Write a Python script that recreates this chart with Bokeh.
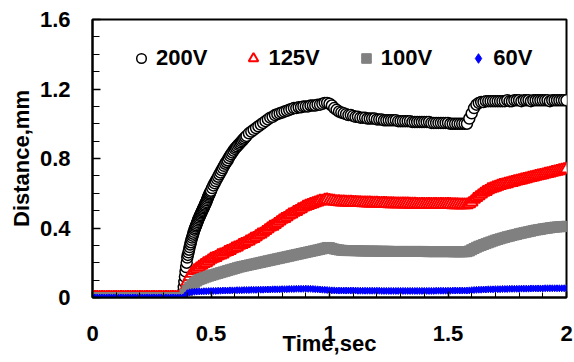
from bokeh.plotting import figure
from bokeh.models import (Range1d, SingleIntervalTicker, NumeralTickFormatter,
                          Legend, LegendItem)
from bokeh.embed import file_html
from bokeh.resources import INLINE

# ---------------- data ----------------
time_s = [i / 100 for i in range(201)]

series_names = ["200V", "125V", "100V", "60V"]
x_title = "Time,sec"
y_title = "Distance,mm"

d200 = [
    0, 0, 0, 0, 0, 0, 0, 0, 0, 0,
    0, 0, 0, 0, 0, 0, 0, 0, 0, 0,
    0, 0, 0, 0, 0, 0, 0, 0, 0, 0,
    0, 0, 0, 0, 0, 0, 0, 0, 0, 0.12,
    0.23, 0.29, 0.345, 0.39, 0.425, 0.46, 0.49, 0.52, 0.55, 0.585,
    0.615, 0.645, 0.67, 0.695, 0.72, 0.745, 0.77, 0.79, 0.815, 0.835,
    0.855, 0.87, 0.885, 0.90, 0.915, 0.93, 0.945, 0.955, 0.965, 0.975,
    0.985, 0.995, 1.005, 1.015, 1.025, 1.035, 1.04, 1.05, 1.055, 1.06,
    1.065, 1.07, 1.075, 1.08, 1.085, 1.09, 1.09, 1.095, 1.095, 1.10,
    1.10, 1.10, 1.105, 1.105, 1.105, 1.11, 1.11, 1.115, 1.12, 1.12,
    1.115, 1.105, 1.09, 1.08, 1.07, 1.065, 1.06, 1.055, 1.05, 1.05,
    1.045, 1.04, 1.04, 1.035, 1.035, 1.035, 1.03, 1.03, 1.03, 1.03,
    1.025, 1.025, 1.025, 1.02, 1.02, 1.02, 1.02, 1.02, 1.02, 1.015,
    1.015, 1.015, 1.015, 1.015, 1.015, 1.01, 1.01, 1.01, 1.01, 1.01,
    1.01, 1.01, 1.01, 1.005, 1.005, 1.005, 1.005, 1.005, 1.005, 1.005,
    1.005, 1.0, 1.0, 1.0, 1.0, 1.0, 1.0, 1.0, 1.0, 1.03,
    1.06, 1.09, 1.11, 1.12, 1.125, 1.125, 1.13, 1.13, 1.13, 1.13,
    1.13, 1.13, 1.13, 1.13, 1.13, 1.135, 1.13, 1.13, 1.135, 1.135,
    1.135, 1.13, 1.135, 1.135, 1.135, 1.13, 1.135, 1.135, 1.135, 1.135,
    1.135, 1.135, 1.135, 1.13, 1.135, 1.135, 1.135, 1.135, 1.135, 1.135,
    1.135,
]

# extra 200V samples read in the steep rise (between the 0.01 s samples)
t200_extra = [
    0.3825, 0.385, 0.3875, 0.3925, 0.395, 0.3975,
    0.4025, 0.405, 0.4075, 0.4125, 0.415, 0.4175,
    0.4225, 0.425, 0.4275, 0.4325, 0.435, 0.4375,
    0.4425, 0.445, 0.4475, 0.4525, 0.455, 0.4575,
    0.4625, 0.465, 0.4675, 0.4725, 0.475, 0.4775,
    0.4825, 0.485, 0.4875, 0.4925, 0.495, 0.4975,
    0.505, 0.515, 0.525, 0.535, 0.545, 0.555, 0.565, 0.575, 0.585, 0.595,
    0.605, 0.615, 0.625, 0.635, 0.645,
]
d200_extra = [
    0.03, 0.06, 0.09, 0.15, 0.175, 0.20,
    0.245, 0.26, 0.275, 0.305, 0.318, 0.332,
    0.356, 0.367, 0.378, 0.399, 0.408, 0.416,
    0.434, 0.443, 0.452, 0.468, 0.475, 0.483,
    0.498, 0.505, 0.513, 0.528, 0.535, 0.543,
    0.559, 0.568, 0.577, 0.593, 0.60, 0.608,
    0.63, 0.658, 0.683, 0.708, 0.733, 0.758, 0.78, 0.803, 0.825, 0.845,
    0.863, 0.878, 0.893, 0.908, 0.923,
]

d125 = [
    0, 0, 0, 0, 0, 0, 0, 0, 0, 0,
    0, 0, 0, 0, 0, 0, 0, 0, 0, 0,
    0, 0, 0, 0, 0, 0, 0, 0, 0, 0,
    0, 0, 0, 0, 0, 0, 0, 0, 0, 0.05,
    0.09, 0.12, 0.14, 0.155, 0.165, 0.175, 0.185, 0.195, 0.20, 0.21,
    0.22, 0.225, 0.23, 0.24, 0.245, 0.25, 0.26, 0.265, 0.27, 0.28,
    0.285, 0.29, 0.30, 0.305, 0.31, 0.32, 0.325, 0.335, 0.34, 0.35,
    0.36, 0.365, 0.375, 0.385, 0.395, 0.405, 0.41, 0.42, 0.43, 0.44,
    0.45, 0.455, 0.465, 0.475, 0.48, 0.49, 0.495, 0.505, 0.51, 0.52,
    0.525, 0.53, 0.535, 0.54, 0.545, 0.55, 0.555, 0.555, 0.56, 0.562,
    0.558, 0.556, 0.554, 0.552, 0.551, 0.55, 0.55, 0.549, 0.548, 0.548,
    0.547, 0.547, 0.546, 0.546, 0.545, 0.545, 0.544, 0.544, 0.543, 0.543,
    0.543, 0.542, 0.542, 0.541, 0.541, 0.54, 0.54, 0.54, 0.539, 0.539,
    0.539, 0.538, 0.538, 0.538, 0.537, 0.537, 0.537, 0.536, 0.536, 0.536,
    0.535, 0.535, 0.535, 0.535, 0.535, 0.535, 0.535, 0.535, 0.535, 0.535,
    0.535, 0.535, 0.534, 0.534, 0.534, 0.533, 0.533, 0.533, 0.533, 0.54,
    0.55, 0.565, 0.575, 0.585, 0.595, 0.605, 0.61, 0.62, 0.625, 0.63,
    0.635, 0.64, 0.645, 0.648, 0.652, 0.655, 0.66, 0.662, 0.666, 0.67,
    0.673, 0.676, 0.68, 0.683, 0.687, 0.69, 0.693, 0.697, 0.70, 0.703,
    0.706, 0.71, 0.713, 0.716, 0.72, 0.723, 0.726, 0.73, 0.733, 0.736,
    0.74,
]

d100 = [
    0, 0, 0, 0, 0, 0, 0, 0, 0, 0,
    0, 0, 0, 0, 0, 0, 0, 0, 0, 0,
    0, 0, 0, 0, 0, 0, 0, 0, 0, 0,
    0, 0, 0, 0, 0, 0, 0, 0, 0, 0.02,
    0.04, 0.06, 0.075, 0.085, 0.095, 0.103, 0.108, 0.113, 0.118, 0.123,
    0.127, 0.131, 0.135, 0.139, 0.143, 0.147, 0.151, 0.155, 0.159, 0.163,
    0.167, 0.171, 0.175, 0.178, 0.181, 0.184, 0.187, 0.19, 0.193, 0.196,
    0.199, 0.202, 0.205, 0.208, 0.211, 0.214, 0.217, 0.22, 0.223, 0.226,
    0.229, 0.232, 0.235, 0.238, 0.241, 0.244, 0.247, 0.25, 0.253, 0.256,
    0.259, 0.262, 0.265, 0.268, 0.271, 0.274, 0.277, 0.28, 0.284, 0.288,
    0.287, 0.283, 0.279, 0.276, 0.274, 0.272, 0.271, 0.27, 0.27, 0.27,
    0.27, 0.269, 0.269, 0.268, 0.268, 0.268, 0.267, 0.267, 0.267, 0.267,
    0.267, 0.266, 0.266, 0.266, 0.266, 0.266, 0.265, 0.265, 0.265, 0.265,
    0.265, 0.265, 0.265, 0.265, 0.265, 0.265, 0.265, 0.265, 0.265, 0.265,
    0.265, 0.264, 0.264, 0.264, 0.264, 0.264, 0.264, 0.264, 0.264, 0.264,
    0.264, 0.264, 0.263, 0.263, 0.263, 0.263, 0.263, 0.263, 0.264, 0.268,
    0.275, 0.282, 0.289, 0.295, 0.30, 0.305, 0.31, 0.315, 0.32, 0.325,
    0.33, 0.334, 0.338, 0.342, 0.346, 0.35, 0.353, 0.357, 0.36, 0.363,
    0.367, 0.37, 0.373, 0.376, 0.379, 0.382, 0.385, 0.388, 0.39, 0.392,
    0.395, 0.397, 0.399, 0.401, 0.403, 0.405, 0.406, 0.407, 0.408, 0.409,
    0.41,
]

d60 = [
    0, 0, 0, 0, 0, 0, 0, 0, 0, 0,
    0, 0, 0, 0, 0, 0, 0, 0, 0, 0,
    0, 0, 0, 0, 0, 0, 0, 0, 0, 0,
    0, 0, 0, 0, 0, 0, 0, 0, 0, 0.01,
    0.025, 0.03, 0.032, 0.033, 0.034, 0.035, 0.035, 0.036, 0.036, 0.037,
    0.037, 0.038, 0.038, 0.039, 0.039, 0.04, 0.04, 0.04, 0.041, 0.041,
    0.041, 0.042, 0.042, 0.042, 0.043, 0.043, 0.043, 0.044, 0.044, 0.044,
    0.045, 0.045, 0.045, 0.046, 0.046, 0.046, 0.047, 0.047, 0.047, 0.047,
    0.048, 0.048, 0.048, 0.049, 0.049, 0.049, 0.05, 0.05, 0.05, 0.05,
    0.051, 0.05, 0.05, 0.049, 0.048, 0.047, 0.046, 0.045, 0.044, 0.043,
    0.042, 0.041, 0.041, 0.04, 0.04, 0.04, 0.04, 0.04, 0.04, 0.04,
    0.04, 0.04, 0.039, 0.039, 0.039, 0.039, 0.039, 0.039, 0.039, 0.039,
    0.039, 0.039, 0.038, 0.038, 0.038, 0.038, 0.038, 0.038, 0.038, 0.038,
    0.038, 0.038, 0.038, 0.038, 0.038, 0.038, 0.038, 0.038, 0.038, 0.038,
    0.038, 0.038, 0.038, 0.038, 0.038, 0.039, 0.039, 0.039, 0.039, 0.039,
    0.039, 0.039, 0.04, 0.04, 0.04, 0.04, 0.04, 0.04, 0.04, 0.041,
    0.042, 0.043, 0.044, 0.045, 0.045, 0.046, 0.046, 0.047, 0.047, 0.047,
    0.048, 0.048, 0.048, 0.049, 0.049, 0.049, 0.05, 0.05, 0.05, 0.05,
    0.05, 0.051, 0.051, 0.051, 0.051, 0.052, 0.052, 0.052, 0.052, 0.052,
    0.052, 0.053, 0.053, 0.053, 0.053, 0.053, 0.053, 0.053, 0.053, 0.053,
    0.053,
]

x_tick_step = 0.5
y_tick_step = 0.4

# merge the 200V samples in time order
pairs200 = sorted(list(zip(time_s, d200)) + list(zip(t200_extra, d200_extra)))
t200 = [a for a, _ in pairs200]
v200 = [b for _, b in pairs200]

# ---------------- figure ----------------
FONT = "Liberation Sans"

p = figure(width=574, height=362, output_backend="svg", toolbar_location=None,
           x_range=Range1d(0, 2), y_range=Range1d(0, 1.6),
           min_border_left=92, min_border_right=8, min_border_top=19,
           min_border_bottom=65, background_fill_color="white",
           border_fill_color="white")

p.xgrid.visible = False
p.ygrid.visible = False
p.outline_line_color = "black"
p.outline_line_width = 2

r200 = p.scatter(t200, v200, marker="circle", size=11, fill_color="white",
                 line_color="black", line_width=1.5)
r125 = p.scatter(time_s, d125, marker="triangle", size=12, fill_color="white",
                 line_color="red", line_width=2)
r100 = p.scatter(time_s, d100, marker="square", size=10, fill_color="#808080",
                 line_color="#808080", line_width=1)
r60 = p.scatter(time_s, d60, marker="diamond", size=7, fill_color="blue",
                line_color="blue", line_width=1)

for ax in (p.xaxis[0], p.yaxis[0]):
    ax.axis_line_width = 2
    ax.axis_line_color = "black"
    ax.major_tick_out = 0
    ax.minor_tick_out = 0
    ax.major_tick_line_width = 1.5
    ax.minor_tick_line_width = 1
    ax.major_tick_line_color = "black"
    ax.minor_tick_line_color = "black"
    ax.major_label_text_font = FONT
    ax.major_label_text_font_style = "bold"
    ax.major_label_text_font_size = "22px"
    ax.major_label_text_color = "black"
    ax.axis_label_text_font = FONT
    ax.axis_label_text_font_style = "bold"
    ax.axis_label_text_font_size = "22px"
    ax.axis_label_text_color = "black"
    ax.formatter = NumeralTickFormatter(format="0.[0]")

p.xaxis[0].ticker = SingleIntervalTicker(interval=x_tick_step, num_minor_ticks=5)
p.yaxis[0].ticker = SingleIntervalTicker(interval=y_tick_step, num_minor_ticks=4)
p.xaxis[0].major_tick_in = 6
p.xaxis[0].minor_tick_in = 5
p.yaxis[0].major_tick_in = 8
p.yaxis[0].minor_tick_in = 7
p.xaxis[0].major_label_standoff = 28
p.yaxis[0].major_label_standoff = 22
p.xaxis[0].axis_label = x_title
p.yaxis[0].axis_label = y_title
p.xaxis[0].axis_label_standoff = -13
p.yaxis[0].axis_label_standoff = 3

legend = Legend(items=[LegendItem(label=series_names[0], renderers=[r200]),
                       LegendItem(label=series_names[1], renderers=[r125]),
                       LegendItem(label=series_names[2], renderers=[r100]),
                       LegendItem(label=series_names[3], renderers=[r60])],
                orientation="horizontal", location=(37, 226),
                padding=0, margin=0, spacing=34, label_standoff=3,
                glyph_width=24, glyph_height=24,
                background_fill_alpha=0, border_line_alpha=0,
                label_text_font=FONT, label_text_font_style="bold",
                label_text_font_size="22px", label_text_color="black")
p.add_layout(legend, "center")

open("out.html", "w").write(file_html(p, INLINE))
